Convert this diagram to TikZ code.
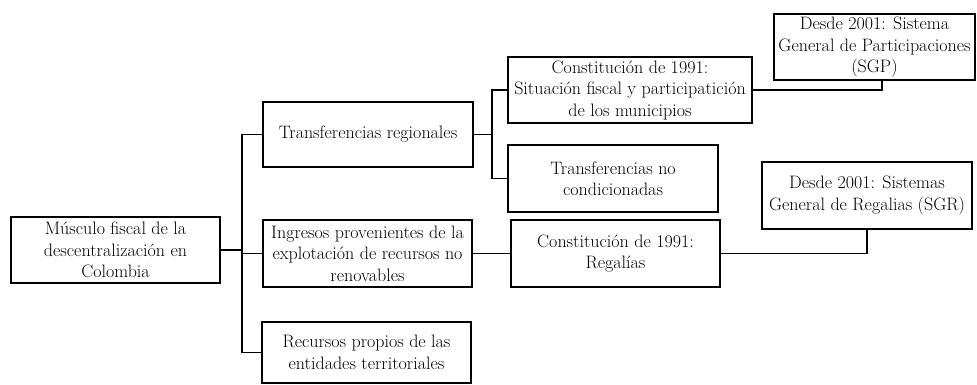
\documentclass[tikz,border=0pt]{standalone}
\usepackage{fontspec}
\begin{document}
\begin{tikzpicture}[x=1pt,y=-1pt,
  box/.style={draw,line width=1.4pt,rectangle,inner sep=0pt,align=center,
    font=\fontsize{18}{21.5}\selectfont},
  conn/.style={line width=1.4pt}]
\useasboundingbox (0,0) rectangle (977,384);
% nodes (centers and sizes in px)
\node[box,minimum width=209,minimum height=66] (A) at (115.5,250) {Músculo fiscal de la\\descentralización en\\Colombia};
\node[box,minimum width=210,minimum height=65] (B1) at (368,134.5) {Transferencias regionales};
\node[box,minimum width=209,minimum height=67] (B2) at (367.5,253.5) {Ingresos provenientes de la\\explotación de recursos no\\renovables};
\node[box,minimum width=209,minimum height=61] (B3) at (366.5,352.5) {Recursos propios de las\\entidades territoriales};
\node[box,minimum width=244,minimum height=66] (C1) at (630,90) {Constitución de 1991:\\Situación fiscal y participatición\\de los municipios};
\node[box,minimum width=210,minimum height=67] (C2) at (613,178.5) {Transferencias no\\condicionadas};
\node[box,minimum width=209,minimum height=67] (C3) at (615.5,253.5) {Constitución de 1991:\\Regalías};
\node[box,minimum width=201,minimum height=66] (D1) at (874.5,47) {Desde 2001: Sistema\\General de Participaciones\\(SGP)};
\node[box,minimum width=210,minimum height=67] (D2) at (867,195.5) {Desde 2001: Sistemas\\General de Regalias (SGR)};
% connectors
\coordinate (trunk) at (242,0);
\coordinate (sub) at (492,0);
\draw[conn] (B1.west) -- (B1.west -| trunk) -- (B3.west -| trunk) -- (B3.west);
\draw[conn] (A.east) -- (A.east -| trunk);
\draw[conn] (B2.west) -- (B2.west -| trunk);
\draw[conn] (B1.east) -- (B1.east -| sub);
\draw[conn] (C1.west) -- (C1.west -| sub) -- (C2.west -| sub) -- (C2.west);
\draw[conn] (B2.east) -- (C3.west);
\coordinate (d1c) at ([xshift=7.5pt]D1.south);
\draw[conn] (C1.east) -| (d1c);
\draw[conn] (C3.east) -| (D2.south);
\end{tikzpicture}
\end{document}
